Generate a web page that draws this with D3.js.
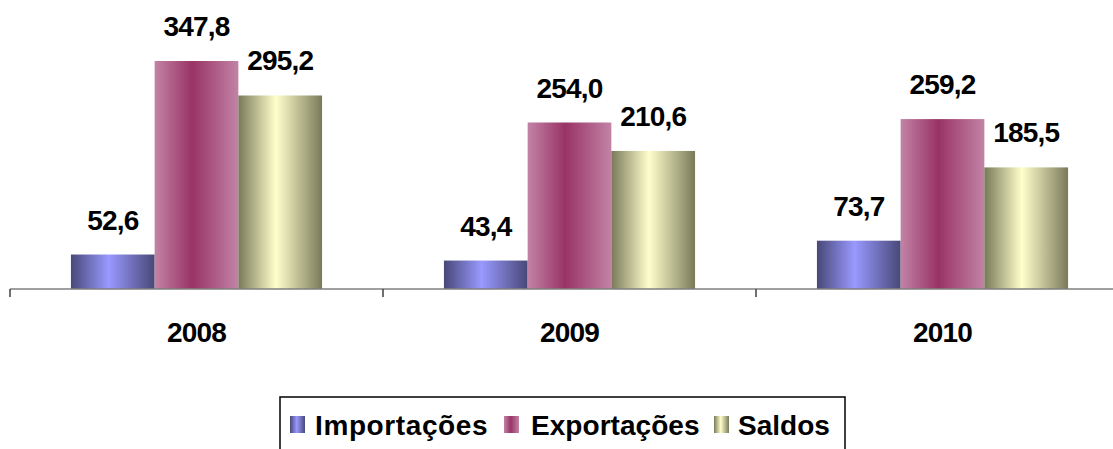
<!DOCTYPE html>
<html><head><meta charset="utf-8">
<script src="https://cdn.jsdelivr.net/npm/d3@7"></script>
<style>body{margin:0;background:#fff}svg{display:block;font-family:"Liberation Sans",Arial,sans-serif}</style>
</head><body><svg id="c" width="1113" height="449"></svg>
<script>
const categories = ["2008", "2009", "2010"];
const seriesNames = ["Importações", "Exportações", "Saldos"];
const importacoes = [52.6, 43.4, 73.7];
const exportacoes = [347.8, 254.0, 259.2];
const saldos = [295.2, 210.6, 185.5];
const valueLabels = [["52,6","43,4","73,7"],["347,8","254,0","259,2"],["295,2","210,6","185,5"]];
const seriesValues = [importacoes, exportacoes, saldos];
const gradStops = [
  ["#484878", "#9999ff", "#484878"],
  ["#c283a6", "#993366", "#c283a6"],
  ["#7a7a5a", "#ffffcc", "#7a7a5a"]
];

const svg = d3.select("#c");
const defs = svg.append("defs");
gradStops.forEach((s, i) => {
  const g = defs.append("linearGradient").attr("id", "g" + i).attr("x1", "0").attr("x2", "1").attr("y1", "0").attr("y2", "0");
  g.append("stop").attr("offset", "0%").attr("stop-color", s[0]);
  g.append("stop").attr("offset", "45%").attr("stop-color", s[1]);
  g.append("stop").attr("offset", "100%").attr("stop-color", s[2]);
});

const x = d3.scaleBand().domain(categories).range([10, 1129]).padding(0);
const xi = d3.scaleBand().domain(seriesNames).range([0, x.bandwidth()]).paddingInner(0).paddingOuter(0.728);
const y = d3.scaleLinear().domain([0, 400]).range([289, 26.8]);

// bars
seriesNames.forEach((s, si) => {
  const g = svg.append("g");
  g.selectAll("rect").data(categories).join("rect")
    .attr("x", (c) => x(c) + xi(s))
    .attr("width", xi.bandwidth())
    .attr("y", (c, ci) => y(seriesValues[si][ci]))
    .attr("height", (c, ci) => y(0) - y(seriesValues[si][ci]))
    .attr("fill", `url(#g${si})`);
  g.selectAll("text").data(categories).join("text")
    .attr("x", (c) => x(c) + xi(s) + xi.bandwidth() / 2)
    .attr("y", (c, ci) => y(seriesValues[si][ci]) - 25)
    .attr("text-anchor", "middle")
    .attr("font-size", 28).attr("letter-spacing", -0.8).attr("font-weight", "bold").attr("fill", "#000")
    .text((c, ci) => valueLabels[si][ci]);
});

// axis
const ax = svg.append("g").attr("transform", `translate(0,${y(0)})`)
  .call(d3.axisBottom(x).tickSize(0).tickFormat(d => d));
ax.select(".domain").attr("stroke", "#7f7f7f").attr("stroke-width", 1.5).attr("d", "M10,0H1129");
ax.selectAll(".tick text").attr("font-size", 28).attr("letter-spacing", -0.8).attr("font-weight", "bold").attr("fill", "#000")
  .attr("dy", 0).attr("y", 53).attr("font-family", "Liberation Sans, Arial, sans-serif");
svg.append("g").selectAll("line").data(categories).join("line")
  .attr("x1", c => x(c)).attr("x2", c => x(c))
  .attr("y1", y(0)).attr("y2", y(0) + 8)
  .attr("stroke", "#404040").attr("stroke-width", 1.5);

// legend
svg.append("rect").attr("x", 280).attr("y", 397).attr("width", 565).attr("height", 60)
  .attr("fill", "#fff").attr("stroke", "#000").attr("stroke-width", 1.5);
const legPos = [[290, 315], [504, 531], [714, 738]];
const legSpacing = [0.6, 0.05, 0];
seriesNames.forEach((s, si) => {
  svg.append("rect").attr("x", legPos[si][0]).attr("y", 416).attr("width", 15).attr("height", 17)
    .attr("fill", `url(#g${si})`);
  svg.append("text").attr("x", legPos[si][1]).attr("y", 435)
    .attr("font-size", 28).attr("font-weight", "bold").attr("letter-spacing", legSpacing[si]).text(s);
});
</script></body></html>
